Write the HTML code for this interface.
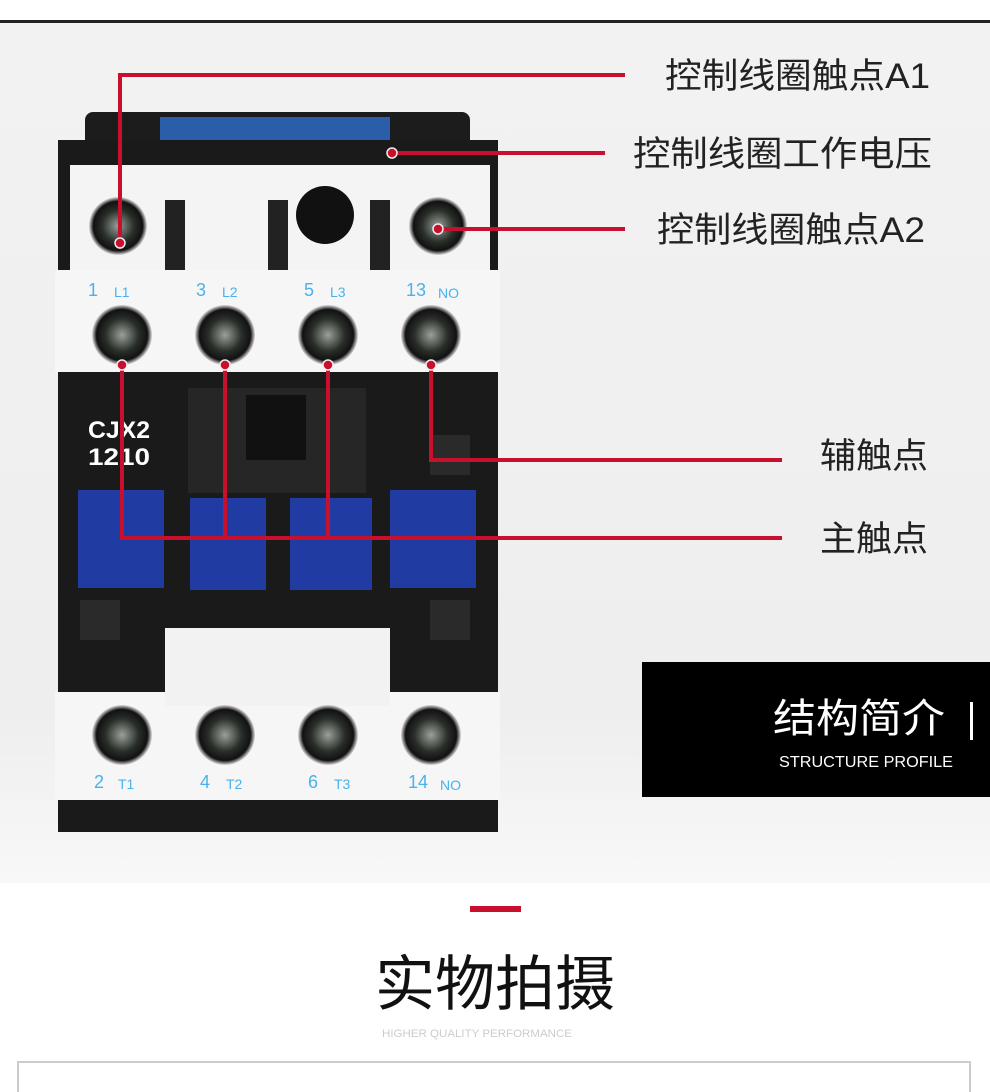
<!DOCTYPE html>
<html><head><meta charset="utf-8"><style>
body{margin:0;width:990px;height:1092px;overflow:hidden;background:#fff;font-family:"Liberation Sans","Noto Sans CJK SC",sans-serif}
</style></head><body>
<svg width="990" height="1092" viewBox="0 0 990 1092" xmlns="http://www.w3.org/2000/svg" style="position:absolute;left:0;top:0">
<defs>
<linearGradient id="bg" x1="0" y1="0" x2="0" y2="1"><stop offset="0" stop-color="#f2f2f2"/><stop offset="0.8" stop-color="#eeeeee"/><stop offset="1" stop-color="#f8f8f8"/></linearGradient>
<radialGradient id="scr" cx="0.5" cy="0.5" r="0.5"><stop offset="0" stop-color="#9aa09a"/><stop offset="0.55" stop-color="#2a2f2a"/><stop offset="0.85" stop-color="#111"/><stop offset="1" stop-color="#ddd"/></radialGradient>
</defs>
<rect x="0" y="0" width="990" height="22" fill="#fff"/>
<rect x="0" y="20" width="990" height="3" fill="#222"/>
<rect x="0" y="23" width="990" height="860" fill="url(#bg)"/>
<rect x="85" y="112" width="385" height="60" rx="8" fill="#1c1c1c"/>
<rect x="160" y="117" width="230" height="50" fill="#2b5ea8"/>
<text x="275" y="152" font-size="14" fill="#cfe" text-anchor="middle">220V 50Hz</text>
<text x="275" y="165" font-size="13" fill="#cfe" text-anchor="middle">A1   M5   A2</text>
<rect x="58" y="140" width="440" height="692" fill="#1a1a1a"/>
<rect x="70" y="165" width="420" height="105" fill="#f4f4f4"/>
<rect x="165" y="200" width="20" height="70" fill="#222"/>
<rect x="268" y="200" width="20" height="70" fill="#222"/>
<rect x="370" y="200" width="20" height="70" fill="#222"/>
<rect x="55" y="270" width="445" height="102" fill="#f6f6f6"/>
<g font-size="18" fill="#49b2ec">
<text x="88" y="296">1</text><text x="114" y="297" font-size="14">L1</text>
<text x="196" y="296">3</text><text x="222" y="297" font-size="14">L2</text>
<text x="304" y="296">5</text><text x="330" y="297" font-size="14">L3</text>
<text x="406" y="296">13</text><text x="438" y="298" font-size="14">NO</text>
</g>
<text x="88" y="438" font-size="24" font-weight="bold" fill="#fff" textLength="62" lengthAdjust="spacingAndGlyphs">CJX2</text>
<text x="88" y="465" font-size="24" font-weight="bold" fill="#fff" textLength="62" lengthAdjust="spacingAndGlyphs">1210</text>
<rect x="188" y="388" width="178" height="105" fill="#262626"/>
<rect x="246" y="395" width="60" height="65" fill="#111"/>
<rect x="430" y="435" width="40" height="40" fill="#2a2a2a"/>
<rect x="430" y="600" width="40" height="40" fill="#2a2a2a"/>
<rect x="80" y="600" width="40" height="40" fill="#2a2a2a"/>
<rect x="78" y="490" width="86" height="98" fill="#203ca3"/>
<rect x="190" y="498" width="76" height="92" fill="#203ca3"/>
<rect x="290" y="498" width="82" height="92" fill="#203ca3"/>
<rect x="390" y="490" width="86" height="98" fill="#203ca3"/>
<rect x="165" y="628" width="225" height="78" fill="#f2f2f2"/>
<rect x="55" y="692" width="445" height="108" fill="#f6f6f6"/>
<rect x="165" y="692" width="225" height="14" fill="#f2f2f2"/>
<g font-size="18" fill="#49b2ec">
<text x="94" y="788">2</text><text x="118" y="789" font-size="14">T1</text>
<text x="200" y="788">4</text><text x="226" y="789" font-size="14">T2</text>
<text x="308" y="788">6</text><text x="334" y="789" font-size="14">T3</text>
<text x="408" y="788">14</text><text x="440" y="790" font-size="14">NO</text>
</g>
<rect x="58" y="800" width="440" height="32" fill="#1a1a1a"/>
<g fill="url(#scr)">
<circle cx="118" cy="226" r="29"/><circle cx="438" cy="226" r="29"/>
<circle cx="122" cy="335" r="30"/><circle cx="225" cy="335" r="30"/><circle cx="328" cy="335" r="30"/><circle cx="431" cy="335" r="30"/>
<circle cx="122" cy="735" r="30"/><circle cx="225" cy="735" r="30"/><circle cx="328" cy="735" r="30"/><circle cx="431" cy="735" r="30"/>
</g>
<circle cx="325" cy="215" r="29" fill="#111"/>
<g stroke="#c8102e" stroke-width="4" fill="none">
<polyline points="120,240 120,75 625,75"/>
<line x1="392" y1="153" x2="605" y2="153"/>
<line x1="438" y1="229" x2="625" y2="229"/>
<polyline points="431,365 431,460 782,460"/>
<polyline points="122,365 122,538 782,538"/>
<line x1="225" y1="365" x2="225" y2="538"/>
<line x1="328" y1="365" x2="328" y2="538"/>
</g>
<g fill="#c8102e" stroke="#eee" stroke-width="1.5">
<circle cx="120" cy="243" r="5"/><circle cx="392" cy="153" r="5"/><circle cx="438" cy="229" r="5"/>
<circle cx="122" cy="365" r="5"/><circle cx="225" cy="365" r="5"/><circle cx="328" cy="365" r="5"/><circle cx="431" cy="365" r="5"/>
</g>
<g font-size="35" fill="#222" lengthAdjust="spacingAndGlyphs">
<text x="665" y="88" textLength="265" lengthAdjust="spacingAndGlyphs">控制线圈触点A1</text>
<text x="633" y="166" textLength="299" lengthAdjust="spacingAndGlyphs">控制线圈工作电压</text>
<text x="657" y="242" textLength="268" lengthAdjust="spacingAndGlyphs">控制线圈触点A2</text>
<text x="820" y="468" textLength="108" lengthAdjust="spacingAndGlyphs">辅触点</text>
<text x="820" y="551" textLength="108" lengthAdjust="spacingAndGlyphs">主触点</text>
</g>
<rect x="642" y="662" width="348" height="135" fill="#000"/>
<text x="773" y="732" font-size="40" fill="#fff" textLength="172" lengthAdjust="spacingAndGlyphs">结构简介</text>
<rect x="970" y="702" width="3" height="38" fill="#fff"/>
<text x="953" y="767" font-size="16" fill="#fff" text-anchor="end" textLength="174" lengthAdjust="spacingAndGlyphs">STRUCTURE PROFILE</text>
<rect x="0" y="883" width="990" height="209" fill="#fff"/>
<rect x="470" y="906" width="51" height="6" fill="#c8102e"/>
<text x="495" y="1005" font-size="60" fill="#111" text-anchor="middle">实物拍摄</text>
<text x="477" y="1037" font-size="11" fill="#ccc" text-anchor="middle" textLength="190" lengthAdjust="spacingAndGlyphs">HIGHER QUALITY PERFORMANCE</text>
<rect x="18" y="1062" width="952" height="40" fill="none" stroke="#ccc" stroke-width="2"/>
</svg>
</body></html>
